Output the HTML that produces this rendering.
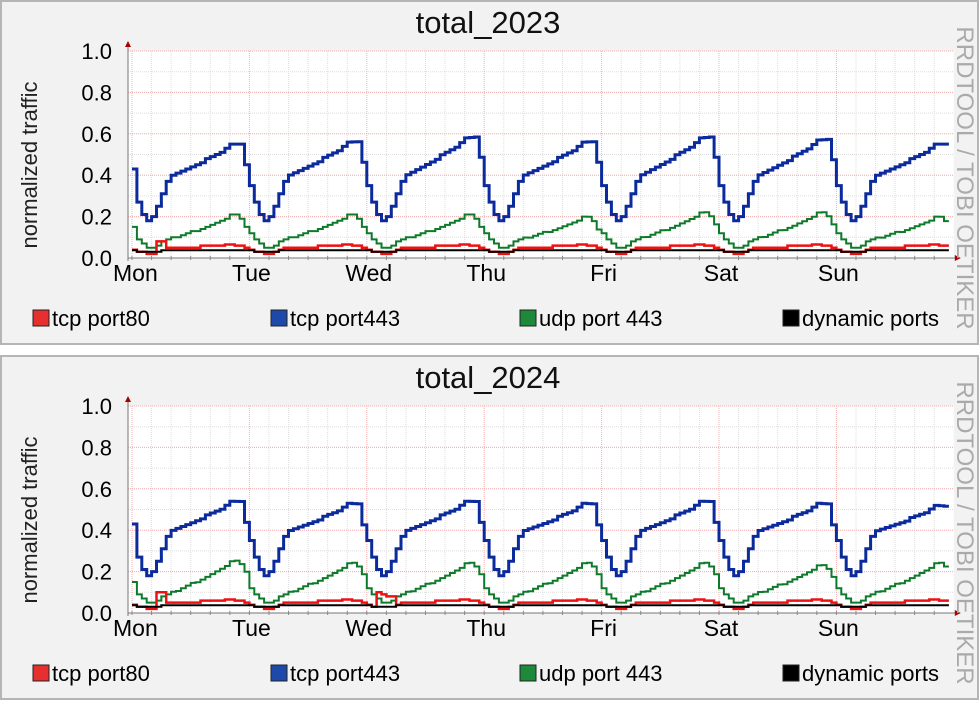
<!DOCTYPE html>
<html><head><meta charset="utf-8"><style>
html,body{margin:0;padding:0;background:#fff;}
svg{display:block;font-family:"Liberation Sans",sans-serif;}
</style></head><body>
<svg id="s" width="980" height="702" xmlns="http://www.w3.org/2000/svg"></svg>
<script>
const S=document.getElementById('s');
let out='';
const X0=128,D0=132,DW=117.4,HW=DW/24;
const blueBase=[0.35,0.27,0.21,0.18,0.20,0.25,0.31,0.37,0.40,0.41,0.42,0.43,0.44,0.45,0.46,0.48,0.49,0.50,0.51,0.53,0.55,0.55,0.55,0.45];
const greenBase=[0.12,0.09,0.07,0.05,0.05,0.06,0.08,0.09,0.10,0.10,0.11,0.12,0.13,0.13,0.14,0.15,0.16,0.17,0.18,0.19,0.21,0.21,0.19,0.15];
const redBase=[0.04,0.03,0.03,0.02,0.02,0.03,0.04,0.05,0.05,0.05,0.05,0.05,0.05,0.05,0.06,0.06,0.06,0.06,0.06,0.065,0.065,0.06,0.06,0.05];
function panel(oy,title,peaks,gpk,redBumps){
  const yT=oy+51,yB=oy+258,H=207;
  const Y=v=>yB-v*H;
  const XE=D0+7*DW;
  out+=`<rect x="1" y="${oy+1}" width="977" height="343" fill="#f2f2f2" stroke="#b5b5b5" stroke-width="2"/>`;
  out+=`<rect x="${X0}" y="${yT}" width="${XE-X0}" height="${H}" fill="#fff"/>`;
  for(let v=0.1;v<1.01;v+=0.1){out+=`<line x1="${X0}" x2="${XE}" y1="${Y(v)}" y2="${Y(v)}" stroke="#ddd" stroke-width="1" stroke-dasharray="1,1"/>`;}
  for(let d=0;d<7;d++)for(let k=1;k<6;k++){const x=D0+d*DW+k*DW/6;out+=`<line x1="${x}" x2="${x}" y1="${yT}" y2="${yB}" stroke="#ddd" stroke-width="1" stroke-dasharray="1,1"/>`;}
  for(let v=0.2;v<1.01;v+=0.2){out+=`<line x1="${X0}" x2="${XE}" y1="${Y(v)}" y2="${Y(v)}" stroke="#f4b0b0" stroke-width="1" stroke-dasharray="1,1"/>`;}
  for(let d=0;d<7;d++){const x=D0+d*DW;out+=`<line x1="${x}" x2="${x}" y1="${yT}" y2="${yB}" stroke="#f4b0b0" stroke-width="1" stroke-dasharray="1,1"/>`;}
  function step(fn,col,w){
    let p='';
    for(let i=0;i<167;i++){const x=D0+i*HW,y=Y(fn(i));p+=(i?'L':'M')+x.toFixed(1)+','+y.toFixed(1)+'H'+(x+HW).toFixed(1);}
    out+=`<path d="${p}" fill="none" stroke="${col}" stroke-width="${w}"/>`;
  }
  step(i=>{if(i==0)return 0.43;const d=Math.floor(i/24),h=i%24;let v=blueBase[h];const pk=peaks[d];if(h>=8)v+=(pk-0.55)*(h-7)/13;return v;},'#0b2a9c',3);
  step(i=>{if(i==0)return 0.15;const d=Math.floor(i/24),h=i%24;let v=greenBase[h];if(h>=8)v+=(gpk[d]-0.21)*(h-7)/13;return v;},'#0d7a2a',2);
  step(i=>{let v=redBase[i%24];if(redBumps[i]!==undefined)v=redBumps[i];return v;},'#ee1111',2.5);
  step(i=>{const h=i%24;return h>=1&&h<6?0.03:0.037;},'#000',2);
  out+=`<line x1="${X0}" x2="${XE+2}" y1="${yB}" y2="${yB}" stroke="#777" stroke-width="1"/>`;
  out+=`<line x1="${X0}" x2="${X0}" y1="${yT-6}" y2="${yB+3}" stroke="#777" stroke-width="1"/>`;
  out+=`<path d="M${X0-3},${yT-4}L${X0+3},${yT-4}L${X0},${yT-10}Z" fill="#a00"/>`;
  out+=`<path d="M${XE+1},${yB-3}L${XE+1},${yB+3}L${XE+7},${yB}Z" fill="#a00"/>`;
  for(let d=0;d<7;d++){const x=D0+d*DW;for(let k=0;k<6;k++){out+=`<line x1="${x+k*DW/6}" x2="${x+k*DW/6}" y1="${yB-2}" y2="${yB+2}" stroke="#888"/>`;}}
  for(let v=0;v<=1.001;v+=0.2){out+=`<text x="${X0-16}" y="${Y(v)+8}" text-anchor="end" font-size="22" fill="#000">${v.toFixed(1)}</text>`;}
  ['Mon','Tue','Wed','Thu','Fri','Sat','Sun'].forEach((n,d)=>{out+=`<text x="${d?D0+d*DW+2:113}" y="${yB+23}" text-anchor="${d?'middle':'start'}" font-size="23">${n}</text>`;});
  out+=`<text x="488" y="${oy+33}" text-anchor="middle" font-size="31" fill="#111">${title}</text>`;
  out+=`<text transform="translate(37,${oy+165}) rotate(-90)" text-anchor="middle" font-size="22" fill="#222">normalized traffic</text>`;
  out+=`<text transform="translate(957,${oy+178}) rotate(90)" text-anchor="middle" font-size="24" fill="#aaa">RRDTOOL / TOBI OETIKER</text>`;
  const leg=[['#e63030','tcp port80',33],['#1f49a8','tcp port443',271],['#1c8a3a','udp port 443',520],['#000','dynamic ports',783]];
  leg.forEach(([c,t,x])=>{out+=`<rect x="${x}" y="${oy+310}" width="16" height="16" fill="${c}" stroke="#222" stroke-width="1"/><text x="${x+19}" y="${oy+326}" font-size="22">${t}</text>`;});
}
panel(0,'total_2023',[0.55,0.56,0.58,0.56,0.58,0.57,0.55],[0.21,0.21,0.21,0.20,0.22,0.22,0.20],{5:0.08,6:0.08});
panel(355,'total_2024',[0.54,0.53,0.54,0.53,0.54,0.53,0.52],[0.25,0.24,0.24,0.24,0.24,0.23,0.24],{5:0.1,6:0.1,50:0.1,51:0.09,52:0.08,53:0.08});
S.innerHTML=out;
</script>
</body></html>
